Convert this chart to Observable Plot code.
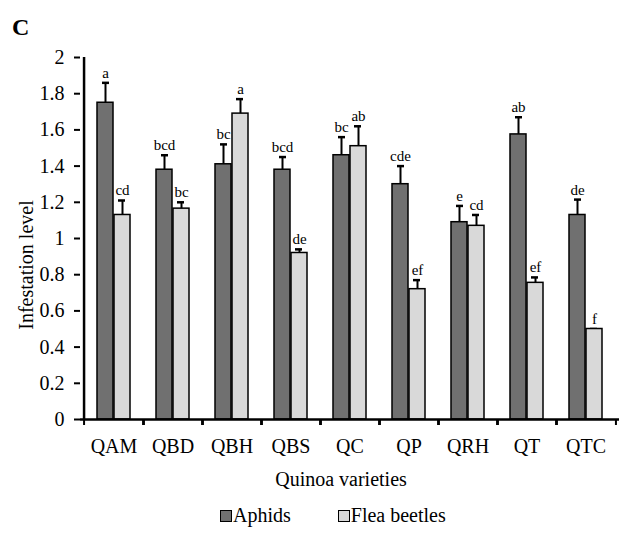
<!DOCTYPE html>
<html><head><meta charset="utf-8">
<script src="https://cdn.jsdelivr.net/npm/d3@7"></script>
<script src="https://cdn.jsdelivr.net/npm/@observablehq/plot@0.6"></script>
<style>
body{margin:0;background:#fff;font-family:Liberation Serif, Times New Roman, serif;color:#000}
#wrap{position:relative;width:619px;height:534px;overflow:hidden}
#wrap svg{position:absolute;left:0;top:0}
.abs{position:absolute;white-space:nowrap;line-height:1;font-family:Liberation Serif, Times New Roman, serif}
#title{left:12px;top:15px;font-weight:bold;font-size:24px}
#ylab{left:26px;top:265px;font-size:20px;transform:translate(-50%,-50%) rotate(-90deg)}
#xlab{left:341px;top:469px;font-size:20px;transform:translateX(-50%)}
#legend{left:220px;top:505px;font-size:20px;display:flex;align-items:center}
.sw{display:inline-block;width:10px;height:10px;border:1.5px solid #000;margin-right:1px;position:relative;top:1px}
</style></head>
<body>
<div id="wrap">
  <div id="chart"></div>
  <div id="title" class="abs">C</div>
  <div id="ylab" class="abs">Infestation level</div>
  <div id="xlab" class="abs">Quinoa varieties</div>
  <div id="legend" class="abs"></div>
</div>
<script>
const varieties = ["QAM","QBD","QBH","QBS","QC","QP","QRH","QT","QTC"];
const seriesNames = ["Aphids","Flea beetles"];
const seriesColors = ["#707070","#d9d9d9"];
const aphids = [1.75,1.38,1.41,1.38,1.46,1.30,1.09,1.575,1.13];
const aphidsSE = [0.11,0.08,0.11,0.07,0.10,0.10,0.09,0.095,0.085];
const aphidsLetters = ["a","bcd","bc","bcd","bc","cde","e","ab","de"];
const flea = [1.13,1.165,1.69,0.92,1.51,0.72,1.07,0.755,0.50];
const fleaSE = [0.08,0.035,0.08,0.02,0.11,0.05,0.06,0.03,0];
const fleaLetters = ["cd","bc","a","de","ab","ef","cd","ef","f"];
const yTicks = [0,0.2,0.4,0.6,0.8,1,1.2,1.4,1.6,1.8,2];

const rowsA = varieties.map((v,i)=>({variety:v, value:aphids[i], top:aphids[i]+aphidsSE[i], letter:aphidsLetters[i]}));
const rowsF = varieties.map((v,i)=>({variety:v, value:flea[i], top:flea[i]+fleaSE[i], letter:fleaLetters[i]}));

const font = "Liberation Serif";
const sw = 1.5;
function seriesMarks(rows, color, side) {
  const s = side; // -1 aphids, +1 flea
  return [
    Plot.ruleX(rows, {x:"variety", y1:"value", y2:"top", dx: 8.5*s, stroke:"#000", strokeWidth:2}),
    Plot.tickY(rows, {x:"variety", y:"top", stroke:"#000", strokeWidth:2.5,
      insetLeft: s<0 ? 18 : 34, insetRight: s<0 ? 34 : 18}),
    Plot.barY(rows, {x:"variety", y:"value", fill:color, stroke:"#000", strokeWidth:sw,
      insetLeft: s<0 ? 13 : 30, insetRight: s<0 ? 30 : 13}),
    Plot.text(rows, {x:"variety", y:"top", text:"letter", dx: 8.5*s, dy:-5, lineAnchor:"bottom",
      fontSize:15, fontFamily:font, fill:"#000"})
  ];
}

const chart = Plot.plot({
  width: 619, height: 534,
  marginLeft: 80, marginRight: 0, marginTop: 57, marginBottom: 115,
  style: {fontFamily: font, background:"#fff", color:"#000", overflow:"visible"},
  x: {type:"band", domain: varieties, padding: 0},
  y: {domain:[0,2]},
  marks: [
    Plot.axisY({ticks: yTicks, tickFormat: d => String(+d.toFixed(1)), tickSize: 6, tickPadding: 10,
      fontSize: 20, fontFamily: font, label: null, stroke:"#000", strokeWidth: 2}),
    Plot.axisX({tickSize: 0, tickPadding: 19, fontSize: 20, fontFamily: font, label: null}),
    Plot.axisX({tickSize: 6, text: null, label: null, dx: -29.94, stroke:"#000", strokeWidth: 2}),
    Plot.axisX({tickSize: 6, text: null, label: null, dx: 29.94, stroke:"#000", strokeWidth: 2}),
    ...seriesMarks(rowsA, seriesColors[0], -1),
    ...seriesMarks(rowsF, seriesColors[1], 1),
    Plot.ruleY([0], {stroke:"#000", strokeWidth: 2.5}),
    Plot.ruleX([varieties[0]], {y1: 0, y2: 2, dx: -29.94, stroke:"#000", strokeWidth: 2.5})
  ]
});
chart.setAttribute("font-family", font);
chart.querySelectorAll("text, g").forEach(el => { if (el.hasAttribute("font-family")) el.setAttribute("font-family", font); });
document.getElementById("chart").appendChild(chart);

const legend = document.getElementById("legend");
seriesNames.forEach((n,i)=>{
  const item = document.createElement("span");
  item.style.display = "inline-flex"; item.style.alignItems = "center";
  if (i>0) item.style.marginLeft = "47px";
  const sq = document.createElement("span"); sq.className = "sw"; sq.style.background = seriesColors[i];
  item.appendChild(sq);
  item.appendChild(document.createTextNode(n));
  legend.appendChild(item);
});
</script>
</body></html>
